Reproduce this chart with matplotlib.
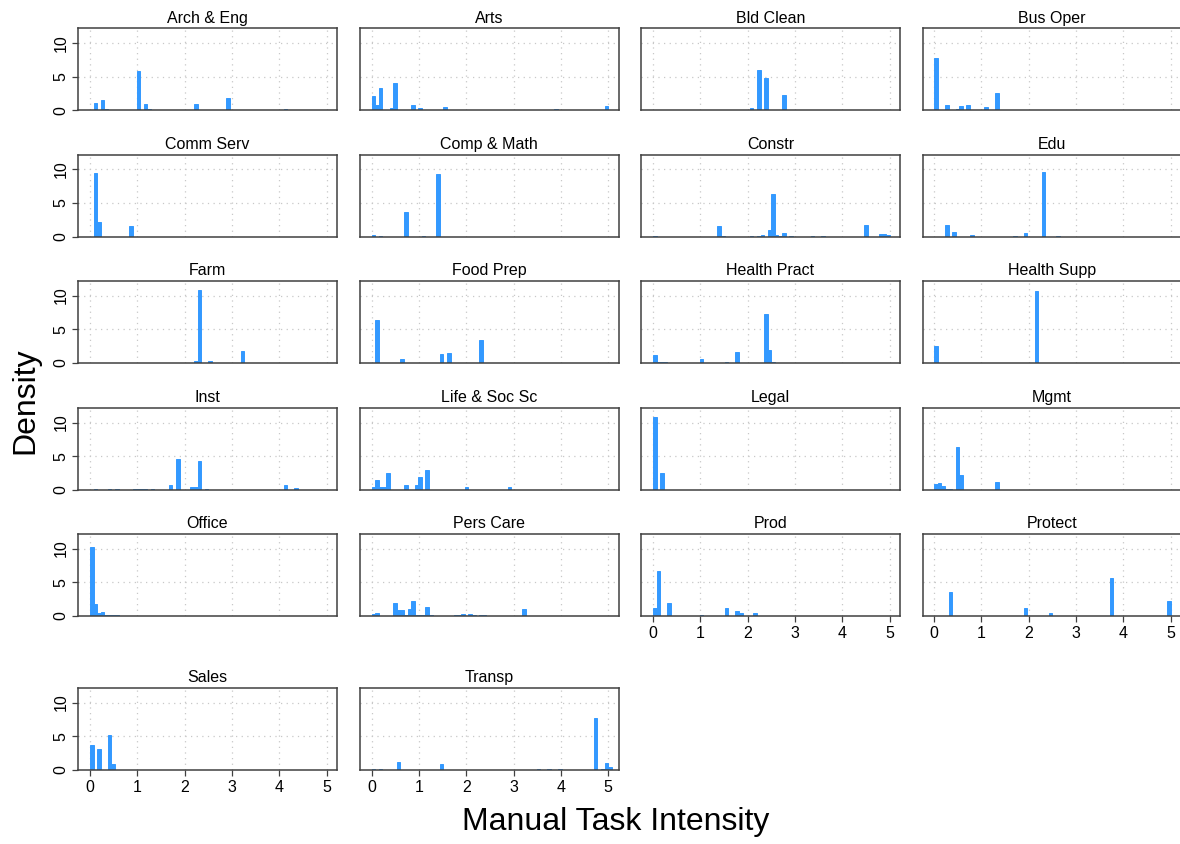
import matplotlib.pyplot as plt
import numpy as np

plt.rcParams["font.family"] = ["Liberation Sans", "DejaVu Sans"]

W, H = 1180, 844
BIN_W = 5 / 66  # histogram bin width on the 0-5 intensity scale

occupations = [
    "Arch & Eng", "Arts", "Bld Clean", "Bus Oper",
    "Comm Serv", "Comp & Math", "Constr", "Edu",
    "Farm", "Food Prep", "Health Pract", "Health Supp",
    "Inst", "Life & Soc Sc", "Legal", "Mgmt",
    "Office", "Pers Care", "Prod", "Protect",
    "Sales", "Transp",
]

# bin positions (manual task intensity) and densities
bar_x = [
    [0.11, 0.26, 0.34, 0.41, 0.86, 1.01, 1.16, 1.23, 2.21, 2.89, 4.16],
    [0.045, 0.12, 0.196, 0.42, 0.494, 0.87, 1.017, 1.544, 3.87, 4.99],
    [1.847, 2.07, 2.22, 2.374, 2.746],
    [0.046, 0.27, 0.494, 0.57, 0.72, 0.796, 1.094, 1.318],
    [0.109, 0.186, 0.862],
    [0.037, 0.19, 0.716, 1.09, 1.387],
    [0.04, 1.39, 1.45, 2.12, 2.2, 2.3, 2.44, 2.52, 2.6, 2.66, 2.75, 2.89,
     3.34, 3.63, 4.54, 4.78, 4.84, 4.92, 4.98],
    [0.26, 0.42, 0.79, 1.69, 1.92, 2.29, 2.65],
    [2.21, 2.28, 2.51, 3.19],
    [0.113, 0.646, 1.46, 1.62, 2.29],
    [0.04, 0.12, 0.19, 0.27, 1.02, 1.55, 1.78, 2.38, 2.45, 2.52],
    [0.044, 2.14],
    [0.08, 0.39, 0.55, 0.93, 1.0, 1.1, 1.17, 1.29, 1.69, 1.84, 2.15, 2.22,
     2.29, 2.45, 4.1, 4.33],
    [0.04, 0.113, 0.19, 0.26, 0.335, 0.72, 0.95, 1.02, 1.17, 2.0, 2.9],
    [0.04, 0.195],
    [0.044, 0.11, 0.19, 0.27, 0.34, 0.49, 0.56, 1.31],
    [0.036, 0.11, 0.18, 0.255, 0.33, 0.4, 0.48, 0.55, 1.91],
    [0.04, 0.11, 0.27, 0.34, 0.42, 0.49, 0.56, 0.64, 0.71, 0.79, 0.86,
     0.94, 1.02, 1.09, 1.17, 1.24, 1.76, 1.84, 1.91, 2.05, 2.15, 2.3, 2.4,
     3.0, 3.25, 4.85],
    [0.04, 0.12, 0.35, 0.86, 1.02, 1.38, 1.54, 1.77, 1.84, 2.14],
    [0.34, 1.76, 1.92, 2.44, 3.78, 4.98],
    [0.036, 0.18, 0.4, 0.47, 0.69, 1.55],
    [0.04, 0.19, 0.57, 0.87, 1.47, 1.55, 2.25, 2.45, 2.75, 2.95, 3.5,
     3.75, 3.95, 4.7, 4.78, 4.86, 4.93, 5.0],
]
bar_h = [
    [1.1, 1.5, 0.25, 0.1, 0.05, 5.85, 0.95, 0.15, 1.0, 1.85, 0.25],
    [2.1, 0.75, 3.25, 0.3, 4.05, 0.85, 0.3, 0.45, 0.15, 0.6],
    [0.05, 0.3, 5.9, 4.75, 2.2],
    [7.7, 0.75, 0.2, 0.6, 0.85, 0.05, 0.45, 2.5],
    [9.45, 2.1, 1.6],
    [0.2, 0.1, 3.65, 0.1, 9.25],
    [0.1, 1.6, 0.1, 0.1, 0.1, 0.15, 1.0, 6.25, 0.2, 0.1, 0.55, 0.1,
     0.1, 0.1, 1.7, 0.15, 0.3, 0.35, 0.15],
    [1.7, 0.7, 0.2, 0.1, 0.55, 9.5, 0.1],
    [0.35, 10.8, 0.35, 1.75],
    [6.4, 0.65, 1.3, 1.5, 3.4],
    [1.2, 0.1, 0.1, 0.1, 0.6, 0.15, 1.6, 7.25, 2.0, 0.1],
    [2.55, 10.7],
    [0.1, 0.2, 0.1, 0.1, 0.1, 0.1, 0.1, 0.1, 0.75, 4.55, 0.45, 0.4,
     4.25, 0.2, 0.8, 0.35],
    [0.45, 1.5, 0.45, 0.5, 2.5, 0.7, 0.75, 1.9, 3.0, 0.5, 0.4],
    [10.85, 2.45],
    [0.95, 1.05, 0.65, 0.1, 0.1, 6.35, 2.15, 1.25],
    [10.15, 1.8, 0.4, 0.55, 0.1, 0.1, 0.1, 0.1, 0.05],
    [0.35, 0.45, 0.05, 0.05, 0.05, 1.9, 0.85, 0.95, 0.1, 1.05, 2.25,
     0.1, 0.1, 0.1, 1.3, 0.1, 0.15, 0.1, 0.25, 0.35, 0.1, 0.1, 0.1,
     0.05, 1.05, 0.05],
    [1.25, 6.7, 1.9, 0.05, 0.1, 0.05, 1.15, 0.75, 0.45, 0.4],
    [3.6, 0.05, 1.15, 0.4, 5.6, 2.25],
    [3.65, 3.1, 5.2, 0.95, 0.05, 0.05],
    [0.1, 0.1, 1.25, 0.05, 0.9, 0.05, 0.05, 0.05, 0.05, 0.05, 0.15,
     0.15, 0.15, 7.75, 0.05, 0.15, 1.0, 0.45],
]

x_ticks = [0, 1, 2, 3, 4, 5]
y_ticks = [0, 5, 10]
bottom_axis = {"Prod", "Protect", "Sales", "Transp"}

# panel layout in pixels
col_left = [78.3, 360.0, 641.3, 922.5]
row_top = [28.3, 154.5, 281.0, 408.0, 534.0, 688.0]
panel_w, panel_h = 258.5, 82

BLUE = "#3399FF"
GRID = "#c8c8c8"
FRAME = "#404040"

fig = plt.figure(figsize=(W / 100, H / 100), dpi=100)

for i, occ in enumerate(occupations):
    r, c = divmod(i, 4)
    left, top = col_left[c], row_top[r]
    ax = fig.add_axes([left / W, 1 - (top + panel_h) / H, panel_w / W, panel_h / H])
    ax.set_xlim(-0.247, 5.217)
    ax.set_ylim(0, 12.15)

    for v in x_ticks:
        ax.axvline(v, color=GRID, lw=0.9, ls=(0, (1, 3.5)), zorder=0)
    for v in y_ticks[1:]:
        ax.axhline(v, color=GRID, lw=0.9, ls=(0, (1, 3.5)), zorder=0)

    xs = (np.floor(np.array(bar_x[i]) / BIN_W) + 0.5) * BIN_W
    ax.bar(xs, bar_h[i], width=BIN_W, color=BLUE, edgecolor=BLUE, linewidth=0.7, zorder=2)

    for s in ax.spines.values():
        s.set_color(FRAME)
        s.set_linewidth(1.1)
        s.set_zorder(3)

    ax.set_xticks(x_ticks)
    ax.set_yticks(y_ticks)
    ax.tick_params(length=4, width=0.9, color=FRAME, labelsize=11.5, pad=3)
    if occ in bottom_axis:
        ax.set_xticklabels([str(v) for v in x_ticks])
    else:
        ax.tick_params(axis="x", bottom=False, labelbottom=False)
    if c == 0:
        ax.set_yticklabels([str(v) for v in y_ticks], rotation=90, va="center")
    else:
        ax.tick_params(axis="y", left=False, labelleft=False)

    ax.set_title(occ, fontsize=11.5, pad=4)

fig.text(25.8 / W, 1 - 400.7 / H, "Density", rotation=90, fontsize=23, ha="center", va="center")
fig.text(616 / W, 1 - 822 / H, "Manual Task Intensity", fontsize=23, ha="center", va="center")

fig.savefig("out.png", dpi=100)
